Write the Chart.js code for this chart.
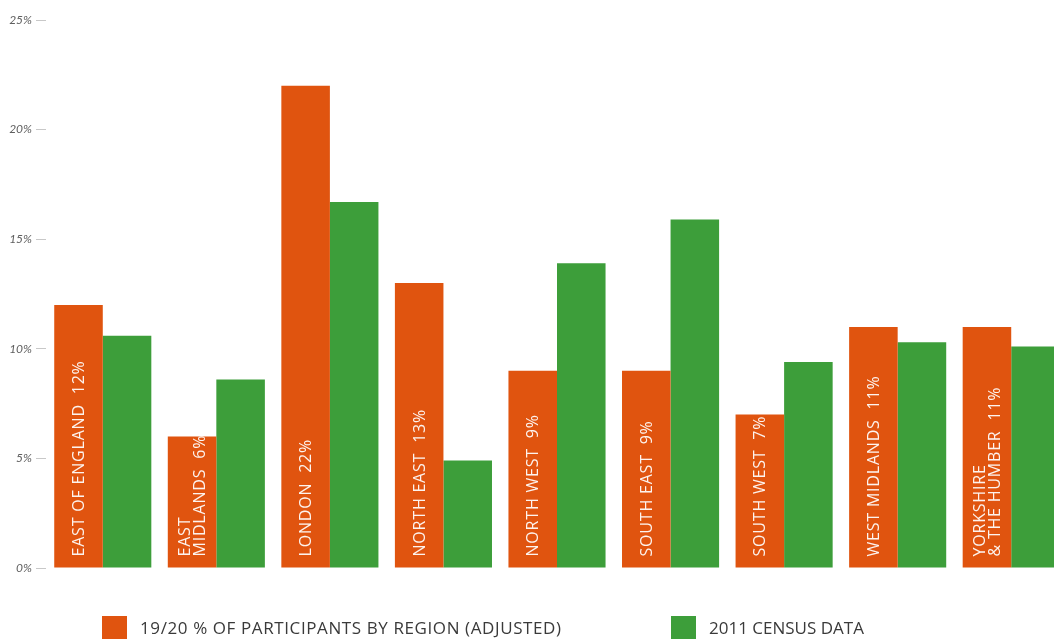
<!DOCTYPE html>
<html>
<head>
<meta charset="utf-8">
<script src="https://cdn.jsdelivr.net/npm/chart.js@4/dist/chart.umd.min.js"></script>
<style>
  html, body { margin: 0; padding: 0; background: #fff; overflow: hidden; }
  #wrap { position: relative; width: 1068px; height: 641px; }
  #legend { position: absolute; left: 0; top: 615px; height: 24px; width: 1054px;
            font-family: "Open Sans", sans-serif; font-size: 17px; letter-spacing: 0.6px; color: #3a3a3a; }
  .item { position: absolute; top: 0; display: flex; align-items: center; height: 24px; white-space: nowrap; }
  .swatch { width: 25px; height: 23px; margin-right: 13px; }
</style>
</head>
<body>
<div id="wrap">
  <canvas id="grafico" width="1068" height="641"></canvas>
  <div id="legend"></div>
</div>
<script>
var regioes = [
    ['EAST OF ENGLAND'],
    ['EAST', 'MIDLANDS'],
    ['LONDON'],
    ['NORTH EAST'],
    ['NORTH WEST'],
    ['SOUTH EAST'],
    ['SOUTH WEST'],
    ['WEST MIDLANDS'],
    ['YORKSHIRE', '& THE HUMBER']
];
var participantes = [12, 6, 22, 13, 9, 9, 7, 11, 11];
var censo = [10.6, 8.6, 16.7, 4.9, 13.9, 15.9, 9.4, 10.3, 10.1];
var ticksY = [0, 5, 10, 15, 20, 25];

var laranja = '#e0540f';
var verde = '#3d9e3a';

// texto branco deitado dentro das barras laranja
var rotulosBarras = {
    id: 'rotulosBarras',
    afterDatasetsDraw: function (chart) {
        var ctx = chart.ctx;
        var meta = chart.getDatasetMeta(0);
        ctx.save();
        ctx.fillStyle = 'rgba(255,255,255,0.93)';
        ctx.font = '400 16px "Open Sans"';
        ctx.letterSpacing = '0.8px';
        ctx.textAlign = 'left';
        ctx.textBaseline = 'middle';
        meta.data.forEach(function (bar, i) {
            var linhas = regioes[i].slice();
            var pct = Math.round(participantes[i]) + '%';
            linhas[linhas.length - 1] += '  ' + pct;
            ctx.save();
            ctx.translate(bar.x + 1, bar.base - 11);
            ctx.rotate(-Math.PI / 2);
            var passo = 15;
            var inicio = -(linhas.length - 1) * passo / 2;
            linhas.forEach(function (l, k) {
                ctx.fillText(l, 0, inicio + k * passo);
            });
            ctx.restore();
        });
        ctx.restore();
    }
};

var grafico = new Chart(document.getElementById('grafico'), {
    type: 'bar',
    data: {
        labels: regioes,
        datasets: [{
            label: '19/20 % OF PARTICIPANTS BY REGION (ADJUSTED)',
            data: participantes,
            backgroundColor: laranja,
            barPercentage: 1.0,
            categoryPercentage: 0.855
        }, {
            label: '2011 CENSUS DATA',
            data: censo,
            backgroundColor: verde,
            barPercentage: 1.0,
            categoryPercentage: 0.855
        }]
    },
    options: {
        responsive: false,
        animation: false,
        layout: { padding: { top: 20, bottom: 73, left: 0, right: 0 } },
        plugins: {
            legend: { display: false },
            tooltip: { enabled: false }
        },
        scales: {
            x: { display: false },
            y: {
                min: 0,
                max: 25,
                afterFit: function (scale) { scale.width = 46; },
                afterBuildTicks: function (scale) {
                    scale.ticks = ticksY.map(function (v) { return { value: v }; });
                },
                border: { display: false },
                grid: {
                    drawOnChartArea: false,
                    drawTicks: true,
                    tickLength: 10,
                    color: '#c8c8c8',
                    lineWidth: 1
                },
                ticks: {
                    padding: 4,
                    color: '#5e5e5e',
                    font: { family: 'Lato', size: 12, style: 'italic' },
                    callback: function (v) { return v + '%'; }
                }
            }
        }
    },
    plugins: [rotulosBarras]
});

// legenda em html a partir dos datasets
var legenda = document.getElementById('legend');
var posicoes = [102, 671];
var espacos = ['0.6px', '0px'];
grafico.data.datasets.forEach(function (ds, i) {
    var item = document.createElement('div');
    item.className = 'item';
    item.style.left = posicoes[i] + 'px';
    item.style.letterSpacing = espacos[i];
    var cor = document.createElement('div');
    cor.className = 'swatch';
    cor.style.background = ds.backgroundColor;
    var txt = document.createElement('span');
    txt.textContent = ds.label;
    item.appendChild(cor);
    item.appendChild(txt);
    legenda.appendChild(item);
});
</script>
</body>
</html>
